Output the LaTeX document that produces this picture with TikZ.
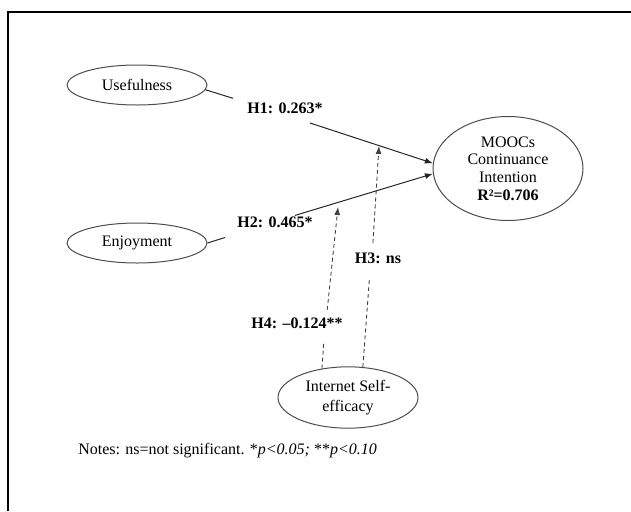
\documentclass[tikz,border=0pt]{standalone}
\usepackage{fontspec}
\setmainfont{Liberation Serif}
\usetikzlibrary{shapes.geometric,arrows.meta}
\tikzset{
  lv/.style={ellipse, draw=black!70, line width=0.75pt, inner sep=0pt, align=center,
             font=\fontsize{12pt}{13.2pt}\selectfont},
  lbl/.style={font=\fontsize{12pt}{14pt}\selectfont\bfseries, inner sep=0pt},
  solidln/.style={line width=0.75pt, draw=black!85},
  dashln/.style={line width=0.65pt, draw=black!75, dash pattern=on 3pt off 2.2pt},
  tip/.style={-{Latex[length=6pt,width=4.5pt]}}
}
\begin{document}
\begin{tikzpicture}[x=0.75pt,y=-0.75pt]
\useasboundingbox (0,0) rectangle (631,511);
% frame
\draw[line width=1.6pt] (8,511) -- (8,12) -- (631,12);
% constructs
\node[lv, minimum width=105pt, minimum height=30pt] (u) at (137,85) {Usefulness};
\node[lv, minimum width=105pt, minimum height=30pt] (e) at (137,243) {Enjoyment};
\node[lv, minimum width=112.5pt, minimum height=78pt] (m) at (508,168.5)
  {MOOCs\\Continuance\\Intention\\\textbf{R²=0.706}};
\node[lv, minimum width=105pt, minimum height=46pt, font=\fontsize{12pt}{15pt}\selectfont] (i) at (348,397.5)
  {Internet Self-\\efficacy};
% helper coordinates
\coordinate (h1a) at (233,98.3);
\coordinate (h1b) at (310,123);
\coordinate (h2a) at (225,237.5);
\coordinate (h2b) at (295,215.4);
\coordinate (h3t) at (379,146);
\coordinate (h3a) at (369.3,280);
\coordinate (h3b) at (372.9,243);
\coordinate (h4t) at (338,207);
\coordinate (h4a) at (323.8,342);
\coordinate (h4b) at (327.2,310);
% labels
\node[lbl] (l1) at (285,108) {H1: 0.263*};
\node[lbl] (l2) at (275,222) {H2: 0.465*};
\node[lbl] (l3) at (378,258) {H3: ns};
\node[lbl] (l4) at (297,323) {H4: –0.124**};
% paths
\draw[solidln] (u.-4) -- (h1a);
\draw[solidln, tip] (h1b) -- (m.176);
\draw[solidln] (e.east) -- (h2a);
\draw[solidln, tip] (h2b) -- (m.184);
\draw[dashln] (i.64) -- (h3a);
\draw[dashln, tip] (h3b) -- (h3t);
\draw[dashln] (i.132) -- (h4a);
\draw[dashln, tip] (h4b) -- (h4t);
% notes
\node[anchor=west, inner sep=0pt, font=\fontsize{12pt}{14pt}\selectfont] (notes) at (78,451)
  {Notes: ns=not significant. *\textit{p<0.05;} **\textit{p<0.10}};
\end{tikzpicture}
\end{document}
